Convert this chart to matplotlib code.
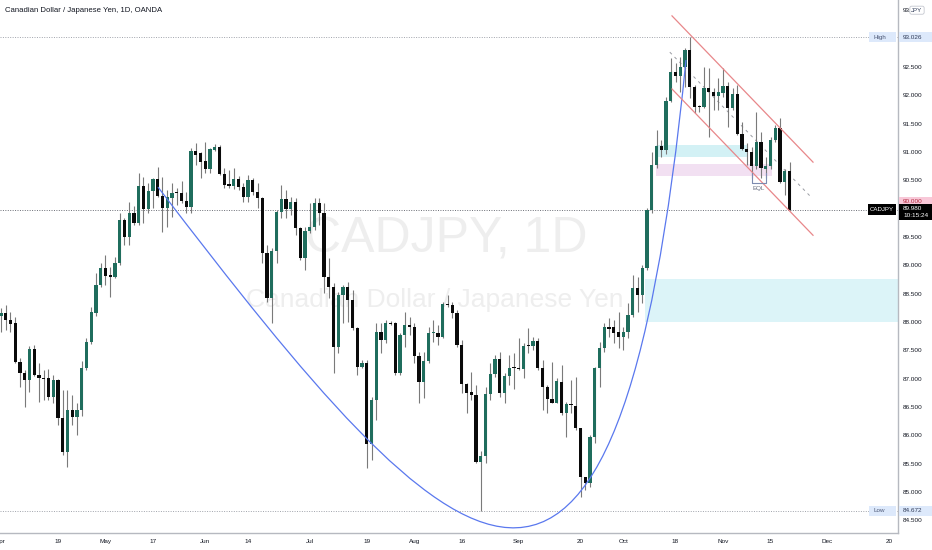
import numpy as np
import pandas as pd
import matplotlib
matplotlib.use('Agg')
import matplotlib.pyplot as plt
from matplotlib.patches import Rectangle, PathPatch
from matplotlib.path import Path
from matplotlib.transforms import blended_transform_factory

plt.rcParams['font.family'] = ['Liberation Sans', 'DejaVu Sans']

# ---------------- data (CADJPY daily, OANDA) ----------------
start_date = '2021-04-01'
opens = [88.11, 88.16, 88.04, 87.98, 87.29, 87.10, 86.98, 87.52, 87.07, 87.01,
         87.01, 86.68, 86.98, 86.31, 85.71, 86.45, 86.32, 86.45, 87.19, 87.65,
         88.16, 88.65, 88.95, 88.83, 88.79, 89.04, 89.80, 89.50, 89.92, 89.75,
         90.40, 89.99, 90.31, 90.52, 90.22, 90.01, 90.19, 90.28, 90.28, 90.14,
         90.03, 91.02, 90.98, 90.84, 90.70, 91.03, 91.09, 90.61, 90.43, 90.40,
         90.52, 90.38, 90.20, 90.50, 90.29, 90.19, 89.22, 88.42, 89.25, 89.94,
         90.17, 89.99, 90.12, 89.66, 89.13, 89.61, 89.68, 90.10, 89.92, 88.79,
         88.62, 87.56, 88.48, 88.62, 88.39, 87.89, 87.21, 87.28, 85.85, 86.62,
         87.82, 87.68, 87.98, 87.98, 87.10, 87.77, 87.95, 87.91, 87.40, 86.94,
         87.31, 87.80, 87.81, 87.74, 88.32, 88.30, 88.16, 87.59, 86.91, 86.77,
         86.71, 85.53, 85.64, 86.73, 87.08, 87.35, 86.75, 87.05, 87.19, 87.19,
         87.17, 87.58, 87.58, 87.67, 87.19, 86.85, 86.64, 86.57, 86.94, 86.39,
         86.55, 86.52, 86.13, 85.27, 85.16, 85.97, 87.19, 87.54, 87.91, 87.91,
         87.82, 87.74, 87.82, 88.12, 88.60, 88.48, 88.95, 89.98, 90.77, 91.11,
         91.03, 91.90, 92.41, 92.34, 92.50, 92.80, 92.15, 91.81, 91.79, 92.13,
         92.06, 91.99, 92.04, 92.16, 91.77, 92.02, 91.32, 91.05, 91.00, 90.75,
         91.18, 90.70, 90.75, 91.21, 91.42, 90.47, 90.66]
highs = [88.25, 88.30, 88.18, 88.09, 87.36, 87.15, 87.58, 87.60, 87.27, 87.15,
         87.17, 87.07, 87.00, 86.80, 86.80, 86.71, 86.57, 87.31, 87.72, 88.27,
         88.86, 89.04, 89.18, 88.97, 89.15, 89.92, 89.83, 90.12, 90.05, 90.63,
         90.56, 90.45, 90.54, 90.73, 90.56, 90.33, 90.45, 90.36, 90.49, 90.29,
         91.07, 91.16, 91.00, 91.18, 91.07, 91.14, 91.12, 90.72, 90.68, 90.72,
         90.58, 90.45, 90.59, 90.54, 90.45, 90.21, 89.36, 89.31, 89.98, 90.42,
         90.33, 90.21, 90.19, 89.68, 89.68, 90.10, 90.19, 90.19, 90.10, 89.13,
         88.69, 88.53, 88.65, 88.71, 88.56, 87.91, 87.33, 87.33, 86.68, 87.98,
         87.98, 88.04, 88.02, 88.00, 87.81, 88.18, 88.09, 87.98, 87.47, 87.47,
         87.91, 88.04, 87.95, 88.35, 88.48, 88.35, 88.21, 87.68, 86.92, 87.12,
         86.89, 85.72, 86.85, 87.28, 87.42, 87.47, 87.10, 87.42, 87.45, 87.72,
         87.63, 87.89, 87.74, 87.72, 87.33, 86.89, 87.29, 87.01, 87.24, 86.59,
         86.98, 87.03, 86.13, 85.27, 86.01, 87.21, 87.65, 87.98, 88.07, 88.04,
         88.18, 87.91, 88.34, 88.83, 88.79, 89.01, 90.01, 91.00, 91.39, 91.21,
         91.97, 92.66, 92.57, 92.67, 92.83, 93.026, 92.18, 91.83, 92.50, 92.48,
         92.13, 92.30, 92.48, 92.23, 92.13, 92.18, 91.53, 91.16, 91.09, 91.70,
         91.35, 90.91, 91.26, 91.48, 91.60, 90.70, 90.82]
lows = [87.82, 87.86, 87.82, 87.27, 86.85, 86.50, 86.77, 87.05, 86.59, 86.62,
        86.62, 86.57, 86.19, 85.65, 85.44, 86.19, 86.01, 86.34, 87.15, 87.61,
        88.11, 88.62, 88.65, 88.44, 88.78, 89.01, 89.36, 89.36, 89.71, 89.71,
        89.75, 89.92, 90.01, 90.20, 89.59, 89.68, 89.85, 90.06, 90.10, 89.92,
        89.92, 90.77, 90.54, 90.63, 90.63, 91.02, 90.59, 90.36, 90.36, 90.35,
        90.33, 90.12, 90.12, 90.24, 90.01, 89.04, 88.35, 87.98, 89.04, 89.84,
        89.84, 89.89, 89.53, 89.09, 88.92, 89.57, 89.62, 89.71, 88.51, 88.42,
        87.10, 87.45, 87.98, 88.00, 87.86, 87.07, 87.19, 85.42, 85.57, 86.27,
        87.45, 87.63, 87.95, 87.07, 87.07, 87.56, 87.77, 87.28, 86.57, 86.66,
        87.28, 87.65, 87.59, 87.72, 88.26, 88.07, 87.56, 86.75, 86.39, 86.62,
        85.51, 84.672, 85.51, 86.62, 87.03, 86.68, 86.57, 86.89, 86.82, 87.15,
        87.01, 87.45, 87.51, 87.15, 86.45, 86.39, 86.57, 86.57, 86.36, 85.97,
        86.39, 86.10, 84.91, 85.04, 85.09, 85.87, 86.85, 87.47, 87.74, 87.63,
        87.54, 87.51, 87.72, 88.09, 88.18, 88.34, 88.92, 89.92, 90.72, 90.91,
        90.96, 91.88, 92.23, 92.06, 92.15, 91.95, 91.69, 91.70, 91.77, 91.26,
        91.74, 91.74, 91.97, 91.44, 91.74, 91.30, 91.03, 90.77, 90.54, 90.70,
        90.54, 90.54, 90.70, 91.18, 90.45, 90.24, 89.96]
closes = [88.16, 88.04, 87.96, 87.29, 87.10, 86.98, 87.52, 87.07, 87.01, 87.00,
          86.68, 86.98, 86.31, 85.71, 86.45, 86.32, 86.45, 87.19, 87.65, 88.18,
          88.65, 88.95, 88.81, 88.79, 89.04, 89.80, 89.50, 89.92, 89.75, 90.40,
          89.99, 90.31, 90.52, 90.22, 90.01, 90.20, 90.28, 90.27, 90.14, 90.03,
          91.02, 90.95, 90.82, 90.70, 91.05, 91.09, 90.61, 90.42, 90.40, 90.52,
          90.38, 90.20, 90.50, 90.29, 90.19, 89.22, 88.42, 89.25, 89.94, 90.17,
          89.99, 90.12, 89.66, 89.13, 89.61, 89.68, 90.10, 89.92, 88.79, 88.62,
          87.56, 88.48, 88.62, 88.39, 87.89, 87.21, 87.28, 85.85, 86.62, 87.82,
          87.68, 87.98, 87.96, 87.10, 87.77, 87.95, 87.91, 87.40, 86.94, 87.31,
          87.81, 87.81, 87.74, 88.32, 88.30, 88.16, 87.59, 86.91, 86.75, 86.71,
          85.53, 85.64, 86.73, 87.08, 87.35, 86.75, 87.05, 87.19, 87.18, 87.17,
          87.58, 87.57, 87.67, 87.19, 86.85, 86.64, 86.57, 86.96, 86.39, 86.55,
          86.54, 86.13, 85.27, 85.16, 85.97, 87.19, 87.54, 87.91, 87.88, 87.81,
          87.74, 87.82, 88.12, 88.60, 88.48, 88.95, 89.98, 90.77, 91.11, 91.03,
          91.90, 92.41, 92.34, 92.50, 92.80, 92.15, 91.79, 91.79, 92.13, 92.06,
          91.99, 92.06, 92.16, 91.77, 92.02, 91.32, 91.05, 91.00, 90.75, 91.18,
          90.72, 90.75, 91.21, 91.42, 90.47, 90.66, 89.98]

high_value = 93.026
low_value = 84.672
last_price = 89.980
alert_price = 90.000

tick_dates = ['2021-04-01', '2021-04-19', '2021-05-03', '2021-05-17', '2021-06-01',
              '2021-06-14', '2021-07-01', '2021-07-19', '2021-08-02', '2021-08-16',
              '2021-09-01', '2021-09-20', '2021-10-01', '2021-10-18', '2021-11-01',
              '2021-11-15', '2021-12-01', '2021-12-20']
tick_labels = ['Apr', '19', 'May', '17', 'Jun', '14', 'Jul', '19', 'Aug', '16',
               'Sep', '20', 'Oct', '18', 'Nov', '15', 'Dec', '20']
price_ticks = [84.5, 85.0, 85.5, 86.0, 86.5, 87.0, 87.5, 88.0, 88.5, 89.0, 89.5,
               90.5, 91.0, 91.5, 92.0, 92.5, 93.5]

# drawing anchors (bar index, price)
cup_curve = [(33.05, 90.38), (96.2, 83.45), (129.9, 80.54), (144.2, 92.62)]
chan_upper = [(141.26, 93.40), (170.95, 90.82)]
chan_lower = [(141.26, 92.11), (170.95, 89.53)]
chan_mid = [(140.8, 92.76), (170.7, 90.19)]
zone_small_cyan = (137.9, 157.3, 90.91, 91.12)
zone_pink = (137.9, 162.3, 90.58, 90.79)
zone_big_cyan = (135.6, 190.0, 88.00, 88.76)
eql_bracket = (158.1, 161.05, 90.45, 90.63)

# ---------------- figure ----------------
W, H = 932, 550
fig = plt.figure(figsize=(W / 100, H / 100), dpi=100)
fig.patch.set_facecolor('white')
ax = fig.add_axes([0, 17 / H, 898 / W, 533 / H])
ax.set_facecolor('white')

n = len(opens)
idx = np.arange(n)
dates = pd.bdate_range(start_date, periods=200)

ax.set_xlim(-0.21, 188.84)
ax.set_ylim(84.278, 93.68)

GREEN = '#1f6d5d'
BLACK = '#0a0a0a'
WICK = '#7a7a7a'
TXT = '#131722'

# watermark
ax.text(93.7, 89.45, 'CADJPY, 1D', ha='center', va='center', fontsize=36,
        color='#eeeeee', zorder=0)
ax.text(91.4, 88.39, 'Canadian Dollar / Japanese Yen', ha='center', va='center',
        fontsize=19, color='#eeeeee', zorder=0)

# zones
for (x0, x1, y0, y1), col in [(zone_small_cyan, '#d3f1f5'), (zone_pink, '#f2e0f2'),
                              (zone_big_cyan, '#dcf4f8')]:
    ax.add_patch(Rectangle((x0, y0), x1 - x0, y1 - y0, facecolor=col,
                           edgecolor='none', zorder=1))

# horizontal dotted lines
ax.axhline(high_value, color='#a0a3ab', lw=0.7, ls=(0, (1, 1.5)), zorder=1)
ax.axhline(low_value, color='#a0a3ab', lw=0.7, ls=(0, (1, 1.5)), zorder=1)
ax.axhline(last_price, color='#6a6d75', lw=0.7, ls=(0, (1, 1.5)), zorder=1)

# candles
o = np.array(opens); h = np.array(highs); l = np.array(lows); c = np.array(closes)
up = c >= o
colors = np.where(up, GREEN, BLACK)
ax.vlines(idx, l, h, color=WICK, lw=0.8, zorder=3)
body_bottom = np.minimum(o, c)
body_h = np.maximum(np.abs(c - o), 0.018)
ax.bar(idx, body_h, bottom=body_bottom, width=0.7, color=colors,
       linewidth=0, zorder=4)

# cup curve (cubic Bezier)
path = Path(cup_curve, [Path.MOVETO, Path.CURVE4, Path.CURVE4, Path.CURVE4])
ax.add_patch(PathPatch(path, facecolor='none', edgecolor='#5a78ee', lw=0.9, zorder=5))

# channel
for seg in (chan_upper, chan_lower):
    ax.plot([seg[0][0], seg[1][0]], [seg[0][1], seg[1][1]], color='#e8878a',
            lw=0.9, zorder=5)
ax.plot([chan_mid[0][0], chan_mid[1][0]], [chan_mid[0][1], chan_mid[1][1]],
        color='#9a9ca3', lw=0.7, ls=(0, (3, 4)), zorder=2)

# EQL bracket
ex0, ex1, ey0, ey1 = eql_bracket
ax.plot([ex0, ex0, ex1, ex1], [ey1, ey0, ey0, ey1], color='#7d8bb0', lw=0.8, zorder=5)
ax.text((ex0 + ex1) / 2, ey0 - 0.05, 'EQL', ha='center', va='top', fontsize=4.5,
        color='#6a6f80', zorder=6)

# axes styling
for s in ['top', 'left']:
    ax.spines[s].set_visible(False)
ax.spines['right'].set_color('#b6b9c0')
ax.spines['bottom'].set_color('#b6b9c0')
ax.spines['right'].set_linewidth(1.0)
ax.spines['bottom'].set_linewidth(1.0)

tick_pos = [dates.get_loc(pd.Timestamp(d)) for d in tick_dates]
ax.set_xticks(tick_pos)
ax.set_xticklabels(tick_labels)
ax.tick_params(axis='x', length=0, pad=4, labelsize=4.6, labelcolor=TXT)

ax.yaxis.tick_right()
ax.set_yticks(price_ticks)
ax.set_yticklabels(['%.3f' % p for p in price_ticks])
ax.tick_params(axis='y', length=0, pad=3.6, labelsize=4.6, labelcolor=TXT)

# ---- price-scale labels ----
trY = blended_transform_factory(fig.transFigure, ax.transData)
ppx = (93.68 - 84.278) / 533.0  # price per pixel


def scale_box(price, text, fc, tc, x0=899, x1=932, hpx=10, tx=903, fs=4.6, va_text=None):
    ax.add_patch(Rectangle((x0 / W, price - hpx * ppx / 2), (x1 - x0) / W, hpx * ppx,
                           transform=trY, facecolor=fc, edgecolor='none',
                           clip_on=False, zorder=10))
    ax.text(tx / W, price, text, transform=trY, ha='left', va='center', fontsize=fs,
            color=tc, clip_on=False, zorder=11)


# High / Low
scale_box(high_value, '93.026', '#dde9fb', '#2f3b58')
scale_box(low_value, '84.672', '#dde9fb', '#2f3b58')
for val, lab in [(high_value, 'High'), (low_value, 'Low')]:
    ax.add_patch(Rectangle((869 / W, val - 5 * ppx), 27 / W, 10 * ppx, transform=trY,
                           facecolor='#dde9fb', edgecolor='none', clip_on=False, zorder=10))
    ax.text(873 / W, val, lab, transform=trY, ha='left', va='center', fontsize=4.5,
            color='#4a5675', zorder=11)

# alert (pink) 90.000 label, shifted above price label
alert_y = alert_price + 7 * ppx
scale_box(alert_y, '%.3f' % alert_price, '#f8c8d8', '#b0283c')

# last price box (two lines)
lp_center = last_price - 2 * ppx
ax.add_patch(Rectangle((899 / W, lp_center - 8 * ppx), 33 / W, 16 * ppx, transform=trY,
                       facecolor='#000000', edgecolor='none', clip_on=False, zorder=10))
ax.text(903 / W, last_price + 1.5 * ppx, '%.3f' % last_price, transform=trY, ha='left',
        va='center', fontsize=4.6, color='white', zorder=11)
ax.text(903 / W, last_price - 6 * ppx, '10:15:24', transform=trY, ha='left',
        va='center', fontsize=4.6, color='white', zorder=11)
ax.add_patch(Rectangle((868 / W, last_price - 5.5 * ppx), 28 / W, 11 * ppx, transform=trY,
                       facecolor='#000000', edgecolor='none', clip_on=False, zorder=10))
ax.text(882 / W, last_price, 'CADJPY', transform=trY, ha='center', va='center',
        fontsize=4.4, color='white', zorder=11)

# JPY currency box at top of scale
ax.text(917 / W, 93.5, 'JPY', transform=trY, ha='center', va='center', fontsize=4.4,
        color='#2f3b58', zorder=12,
        bbox=dict(boxstyle='round,pad=0.25,rounding_size=0.3', fc='white', ec='#c4c7cf',
                  lw=0.6))

# title
fig.text(5 / W, 1 - 11 / H, 'Canadian Dollar / Japanese Yen, 1D, OANDA', ha='left',
         va='center', fontsize=5.6, color=TXT)

fig.savefig('out.png', dpi=100, facecolor='white')
